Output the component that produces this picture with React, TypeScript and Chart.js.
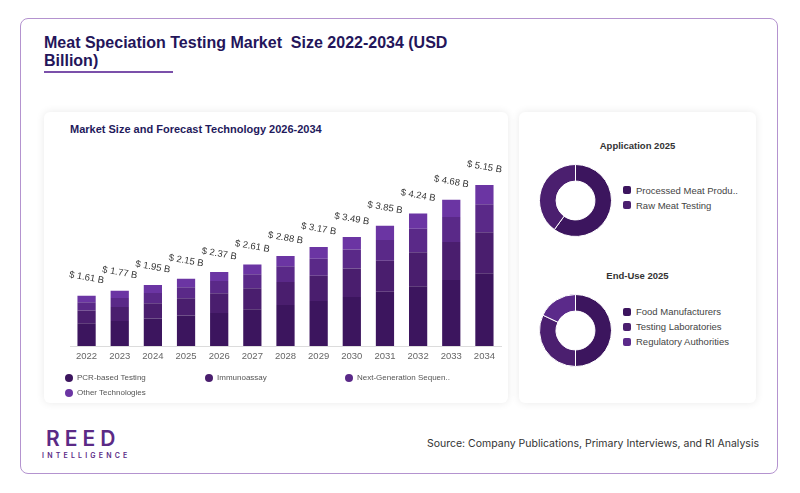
import React, { useEffect, useRef } from "react";
import { Chart, registerables } from "chart.js";

Chart.register(...registerables);

const YEARS = ["2022", "2023", "2024", "2025", "2026", "2027", "2028", "2029", "2030", "2031", "2032", "2033", "2034"];
const TOTALS = [1.61, 1.77, 1.95, 2.15, 2.37, 2.61, 2.88, 3.17, 3.49, 3.85, 4.24, 4.68, 5.15];
const PCR = [0.73, 0.8, 0.88, 0.98, 1.06, 1.18, 1.31, 1.44, 1.57, 1.74, 1.91, 2.11, 2.33];
const IMMUNO = [0.41, 0.45, 0.49, 0.55, 0.63, 0.67, 0.74, 0.81, 0.91, 0.99, 1.09, 1.22, 1.31];
const NGS = [0.26, 0.29, 0.33, 0.35, 0.39, 0.45, 0.5, 0.54, 0.61, 0.66, 0.75, 0.8, 0.9];
const OTHER = [0.21, 0.23, 0.25, 0.27, 0.29, 0.31, 0.33, 0.38, 0.4, 0.46, 0.49, 0.55, 0.61];
const TECH_LABELS = ["PCR-based Testing", "Immunoassay", "Next-Generation Sequen..", "Other Technologies"];
const TECH_COLORS = ["#3c155e", "#4a1e6e", "#5a2988", "#6b35a3"];

const APP_LABELS = ["Processed Meat Produ..", "Raw Meat Testing"];
const APP_VALUES = [60, 40];
const ENDUSE_LABELS = ["Food Manufacturers", "Testing Laboratories", "Regulatory Authorities"];
const ENDUSE_VALUES = [50, 32, 18];
const DONUT_COLORS = ["#3c155e", "#4b1f6f", "#5b2a8a"];

const FONT = '"Liberation Sans", Arial, sans-serif';

const totalLabelPlugin = {
  id: "totalLabels",
  afterDatasetsDraw(chart: any) {
    const ctx = chart.ctx;
    const meta = chart.getDatasetMeta(chart.data.datasets.length - 1);
    meta.data.forEach((bar: any, i: number) => {
      ctx.save();
      ctx.translate(bar.x, bar.y - 18);
      ctx.rotate((10 * Math.PI) / 180);
      ctx.font = `9.5px ${FONT}`;
      ctx.fillStyle = "#333";
      ctx.textAlign = "center";
      ctx.textBaseline = "middle";
      ctx.fillText(`$ ${TOTALS[i].toFixed(2)} B`, 0, 0);
      ctx.restore();
    });
  },
};

function BarChart() {
  const ref = useRef<HTMLCanvasElement>(null);
  useEffect(() => {
    const series = [PCR, IMMUNO, NGS, OTHER];
    const chart = new Chart(ref.current!, {
      type: "bar",
      data: {
        labels: YEARS,
        datasets: series.map((d, i) => ({
          label: TECH_LABELS[i],
          data: d,
          backgroundColor: TECH_COLORS[i],
          borderWidth: 0,
          categoryPercentage: 1,
          barPercentage: 0.55,
        })),
      },
      options: {
        animation: false,
        responsive: false,
        layout: { padding: { left: 26, right: 7, top: 46.5, bottom: 35.6 } },
        plugins: { legend: { display: false }, tooltip: { enabled: false } },
        scales: {
          x: {
            stacked: true,
            grid: { display: false, drawTicks: false },
            border: { display: true, color: "#dcdcdc" },
            ticks: { color: "#666", font: { size: 9.5, family: FONT }, padding: 5 },
          },
          y: { stacked: true, display: false, min: 0, max: 6 },
        },
      },
      plugins: [totalLabelPlugin],
    });
    return () => chart.destroy();
  }, []);
  return <canvas ref={ref} width={464} height={291} style={{ position: "absolute", left: 44, top: 112 }} />;
}

function Donut({ values, colors, left, top }: { values: number[]; colors: string[]; left: number; top: number }) {
  const ref = useRef<HTMLCanvasElement>(null);
  useEffect(() => {
    const chart = new Chart(ref.current!, {
      type: "doughnut",
      data: { labels: values.map((_, i) => String(i)), datasets: [{ data: values, backgroundColor: colors, borderColor: "#fff", borderWidth: 1 }] },
      options: {
        animation: false,
        responsive: false,
        cutout: "54%",
        plugins: { legend: { display: false }, tooltip: { enabled: false } },
      },
    });
    return () => chart.destroy();
  }, []);
  return <canvas ref={ref} width={73} height={73} style={{ position: "absolute", left, top }} />;
}

function DonutLegend({ labels, colors, left, top }: { labels: string[]; colors: string[]; left: number; top: number }) {
  return (
    <div style={{ position: "absolute", left, top }}>
      {labels.map((l, i) => (
        <div key={l} style={{ display: "flex", alignItems: "center", height: 15 }}>
          <span style={{ width: 8, height: 8, borderRadius: 2, background: colors[i], marginRight: 5 }} />
          <span style={{ fontFamily: FONT, fontSize: 9.5, color: "#444", letterSpacing: 0, whiteSpace: "nowrap" }}>{l}</span>
        </div>
      ))}
    </div>
  );
}

export default function App() {
  const card: React.CSSProperties = {
    position: "absolute",
    background: "#fff",
    borderRadius: 6,
    boxShadow: "0 0 8px rgba(0,0,0,0.09)",
  };
  return (
    <div style={{ position: "fixed", left: 0, top: 0, width: 800, height: 493, background: "#fff", overflow: "hidden" }}>
      <div style={{ position: "absolute", left: 20, top: 18, width: 758, height: 456, border: "1px solid #b493cf", borderRadius: 8, boxSizing: "border-box" }} />
      <div
        style={{
          position: "absolute",
          left: 44,
          top: 34,
          width: 420,
          fontFamily: FONT,
          fontWeight: 700,
          fontSize: 16,
          lineHeight: "18px",
          color: "#24155a",
          whiteSpace: "pre-wrap",
        }}
      >
        {"Meat Speciation Testing Market  Size 2022-2034 (USD Billion)"}
      </div>
      <div style={{ position: "absolute", left: 44, top: 71, width: 129, height: 2, background: "#7b50aa" }} />

      <div style={{ ...card, left: 44, top: 112, width: 464, height: 291 }} />
      <div style={{ ...card, left: 519, top: 112, width: 237, height: 291 }} />

      <div style={{ position: "absolute", left: 70, top: 123, fontFamily: FONT, fontWeight: 700, fontSize: 11, color: "#1f1a5c" }}>
        Market Size and Forecast Technology 2026-2034
      </div>
      <BarChart />
      <div style={{ position: "absolute", left: 65, top: 370, width: 430, display: "flex", flexWrap: "wrap" }}>
        {TECH_LABELS.map((l, i) => (
          <div key={l} style={{ width: 140, height: 15, display: "flex", alignItems: "center" }}>
            <span style={{ width: 8, height: 8, borderRadius: 4, background: TECH_COLORS[i], marginRight: 4 }} />
            <span style={{ fontFamily: FONT, fontSize: 8, color: "#555", whiteSpace: "nowrap" }}>{l}</span>
          </div>
        ))}
      </div>

      <div style={{ position: "absolute", left: 519, width: 237, top: 140, textAlign: "center", fontFamily: FONT, fontWeight: 700, fontSize: 9.5, color: "#333" }}>
        Application 2025
      </div>
      <Donut values={APP_VALUES} colors={DONUT_COLORS} left={538.5} top={163.5} />
      <DonutLegend labels={APP_LABELS} colors={DONUT_COLORS} left={623} top={182.5} />

      <div style={{ position: "absolute", left: 519, width: 237, top: 270, textAlign: "center", fontFamily: FONT, fontWeight: 700, fontSize: 9.5, color: "#333" }}>
        End-Use 2025
      </div>
      <Donut values={ENDUSE_VALUES} colors={DONUT_COLORS} left={538.5} top={293.5} />
      <DonutLegend labels={ENDUSE_LABELS} colors={DONUT_COLORS} left={623} top={304} />

      <div style={{ position: "absolute", left: 46, top: 427, fontFamily: "Inter, sans-serif", fontWeight: 600, fontSize: 21, letterSpacing: 5, color: "#5b2a86", lineHeight: "24px" }}>
        REED
      </div>
      <div style={{ position: "absolute", left: 42, top: 452, fontFamily: "Inter, sans-serif", fontWeight: 600, fontSize: 7, letterSpacing: 3.2, color: "#5b2a86", lineHeight: "8px" }}>
        INTELLIGENCE
      </div>
      <div style={{ position: "absolute", right: 41, top: 437, fontFamily: "Inter, sans-serif", fontSize: 10.5, color: "#333", whiteSpace: "nowrap" }}>
        Source: Company Publications, Primary Interviews, and RI Analysis
      </div>
    </div>
  );
}
